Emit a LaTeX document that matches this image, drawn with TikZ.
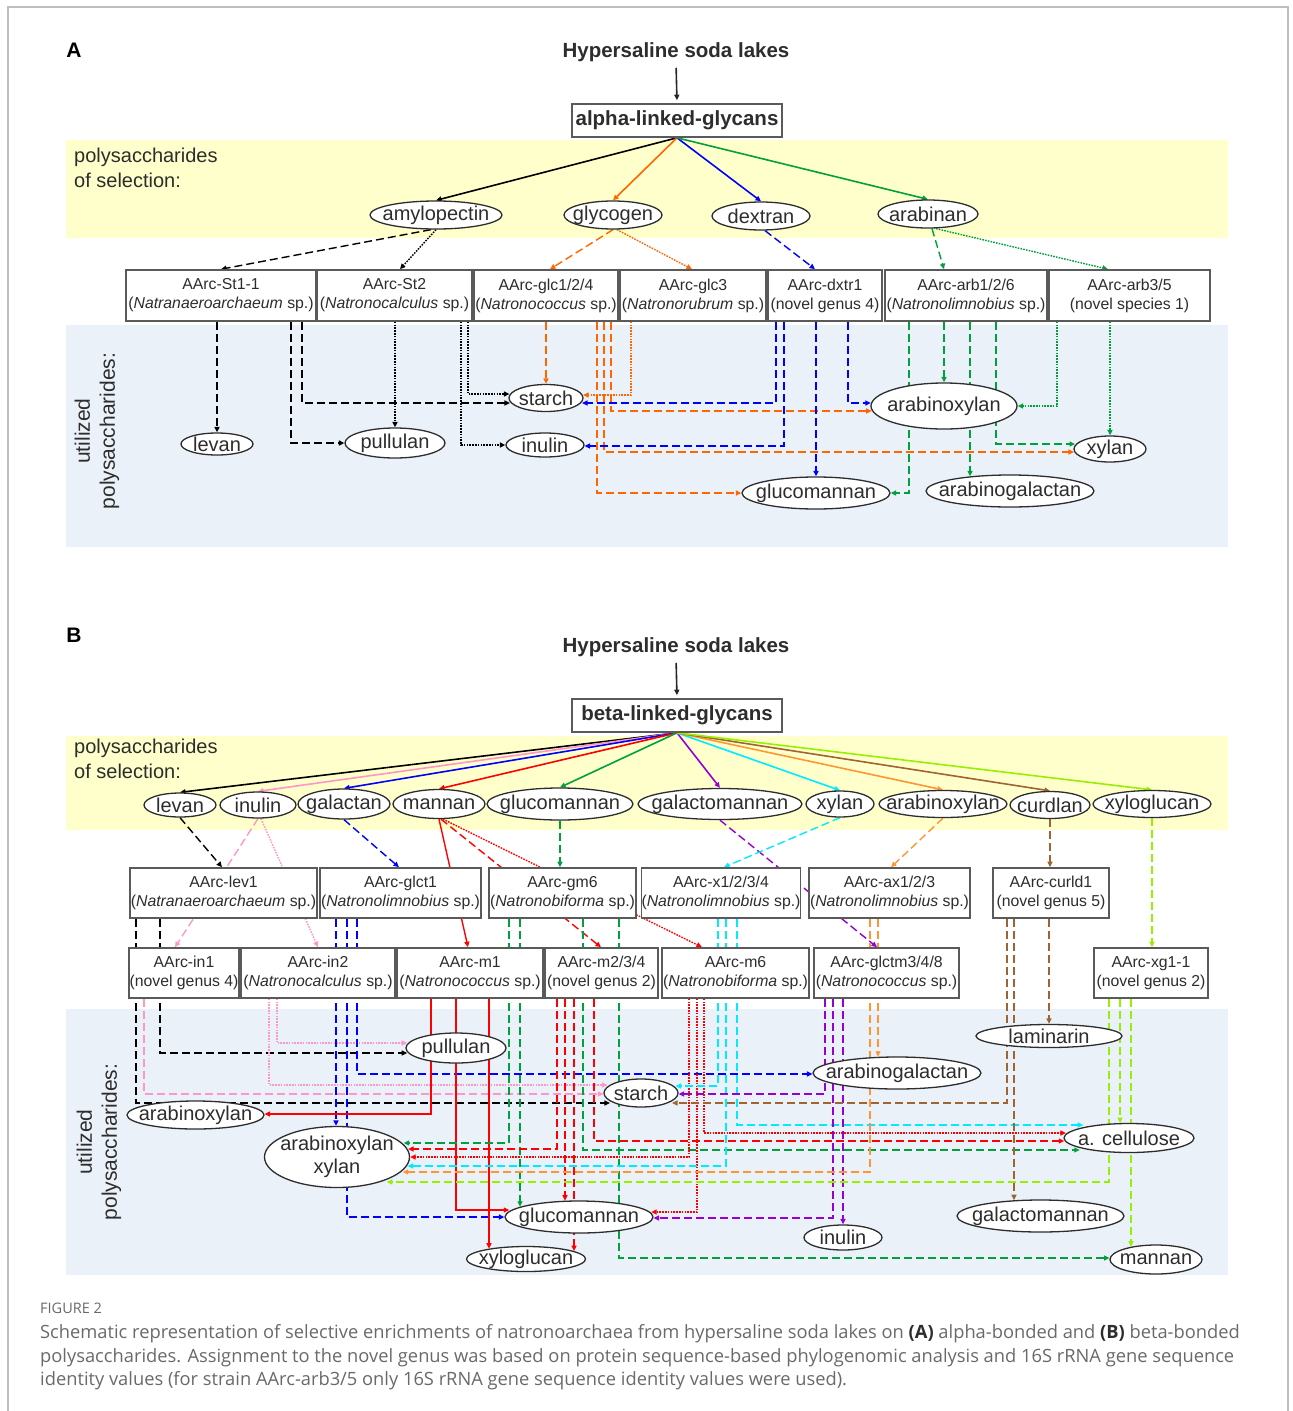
\documentclass[tikz,border=0pt]{standalone}
\usepackage{fontspec}
\setmainfont{Liberation Sans}
\newfontfamily\capfont{Open Sans}
\usetikzlibrary{arrows.meta,calc,shapes.geometric}
\pgfdeclarelayer{bg}
\pgfdeclarelayer{edges}
\pgfsetlayers{bg,edges,main}

\definecolor{cblack}{RGB}{0,0,0}
\definecolor{corange}{RGB}{255,102,0}
\definecolor{cblue}{RGB}{0,0,255}
\definecolor{cgreen}{RGB}{0,160,60}
\definecolor{cpink}{RGB}{255,150,200}
\definecolor{cred}{RGB}{255,0,0}
\definecolor{cpurple}{RGB}{150,0,210}
\definecolor{ccyan}{RGB}{0,235,255}
\definecolor{clorange}{RGB}{255,150,50}
\definecolor{cbrown}{RGB}{160,100,50}
\definecolor{clime}{RGB}{150,240,0}
\definecolor{bandyellow}{RGB}{255,255,204}
\definecolor{bandblue}{RGB}{234,241,249}
\definecolor{txt}{RGB}{45,45,45}
\definecolor{boxline}{RGB}{90,90,90}
\definecolor{capgray}{RGB}{105,105,105}
\definecolor{framegray}{RGB}{190,190,190}

\newcommand\myfs[2]{\fontsize{#1}{#2}\selectfont}

% vertical from box at x, then horizontal at level y to ellipse border (side -1 west, 1 east)
\newcommand\vh[6]{%
 \draw[#1] let \p1=(#5.center), \p2=(#5.east), \p3=(#5.north),
   \n1={(\x2-\x1)*sqrt(max(0,1-((#4*1pt+\y1)/(\y3-\y1+3pt))^2))} in
   (#3,0 |- #2.south) |- (\x1+#6*\n1*1pt, -#4*1pt);}
% vertical from box at x down to top border of ellipse
\newcommand\vv[4]{%
 \draw[#1] let \p1=(#4.center), \p2=(#4.east), \p3=(#4.north),
   \n1={(\y3-\y1)*sqrt(max(0,1-((#3*1pt-\x1)/(\x2-\x1))^2))} in
   (#3,0 |- #2.south) -- (#3*1pt, \y1+\n1*1pt);}

\tikzset{
 ln/.style={line width=1.4pt, -{Triangle[length=5.5pt,width=5pt]}},
 sol/.style={ln, line width=1.6pt},
 dsh/.style={ln, dash pattern=on 8pt off 4pt},
 dtt/.style={ln, line width=1.4pt, dash pattern=on 1.6pt off 1.2pt},
 abox/.style={draw=boxline, line width=1.6pt, fill=white, inner sep=0pt, align=center, text=txt, font=\myfs{15.8}{19}},
 ell/.style={draw=txt, line width=1.3pt, fill=white, ellipse, inner sep=0pt},
 etxt/.style={text=txt, font=\myfs{20}{23}, inner sep=0pt, align=center},
 plain/.style={text=txt, inner sep=0pt},
}
\newcommand\ellnode[6]{\node[ell, minimum width=#4pt, minimum height=#5pt, label={[etxt,name=#1-t]center:{#6}}] (#1) at (#2,#3) {};}
\newcommand\boxnode[6]{\node[abox, minimum width=#4pt, minimum height=#5pt] (#1) at (#2,#3) {#6};}

\begin{document}
\begin{tikzpicture}[x=1pt,y=-1pt]
\useasboundingbox (0,0) rectangle (1293,1411);
\draw[framegray, line width=1.5pt] (8,1411) -- (8,7) -- (1288,7) -- (1288,1411);

\begin{pgfonlayer}{bg}
 \fill[bandyellow] (66,140) rectangle (1228,238);
 \fill[bandblue] (66,325) rectangle (1228,547);
 \fill[bandyellow] (66,736) rectangle (1228,830);
 \fill[bandblue] (66,1009) rectangle (1228,1275);
\end{pgfonlayer}

% ================= PART A =================
\node[plain, text=black, font=\bfseries\myfs{21}{24}] (labA) at (74,50) {A};
\node[plain, font=\bfseries\myfs{20.5}{24}] (titleA) at (676,52) {Hypersaline soda lakes};
\node[abox, font=\bfseries\myfs{20.5}{24}, minimum width=210pt, minimum height=33pt] (alpha) at (677,120.5) {alpha-linked-glycans};
\node[plain, anchor=west, font=\myfs{20}{23}] (selA1) at (74,157) {polysaccharides};
\node[plain, anchor=west, font=\myfs{20}{23}] (selA2) at (74,180) {of selection:};
\node[plain, rotate=90, align=center, font=\myfs{21}{25}] (utilA) at (97,431) {utilized\\polysaccharides:};

\ellnode{amy}{436}{215}{132}{28}{amylopectin}
\ellnode{glyc}{613}{215}{98}{28}{glycogen}
\ellnode{dext}{761}{216}{98}{28}{dextran}
\ellnode{arab}{928}{214}{100}{28}{arabinan}

\boxnode{st11}{221}{295.5}{190}{51}{AArc-St1-1\\(\textit{Natranaeroarchaeum} sp.)}
\boxnode{st2}{394.5}{295.5}{155}{51}{AArc-St2\\(\textit{Natronocalculus} sp.)}
\boxnode{glc124}{546}{295.5}{144}{51}{AArc-glc1/2/4\\(\textit{Natronococcus} sp.)}
\boxnode{glc3}{693}{295.5}{146}{51}{AArc-glc3\\(\textit{Natronorubrum} sp.)}
\boxnode{dxtr1}{825}{295.5}{114}{51}{AArc-dxtr1\\(novel genus 4)}
\boxnode{arb126}{966}{295.5}{162}{51}{AArc-arb1/2/6\\(\textit{Natronolimnobius} sp.)}
\boxnode{arb35}{1129.5}{295.5}{161}{51}{AArc-arb3/5\\(novel species 1)}

\ellnode{levanA}{217}{444}{72}{22}{levan}
\ellnode{pullA}{395}{443}{100}{30}{pullulan}
\ellnode{starchA}{546}{398}{74}{27}{starch}
\ellnode{inulinA}{545}{445}{78}{24}{inulin}
\ellnode{axA}{944}{406}{146}{46}{arabinoxylan}
\ellnode{xylanA}{1110}{449}{72}{26}{xylan}
\ellnode{gmA}{816}{493}{148}{32}{glucomannan}
\ellnode{agA}{1010}{491}{168}{32}{arabinogalactan}

% ================= PART B =================
\node[plain, text=black, font=\bfseries\myfs{21}{24}] (labB) at (74,635) {B};
\node[plain, font=\bfseries\myfs{20.5}{24}] (titleB) at (676,647) {Hypersaline soda lakes};
\node[abox, font=\bfseries\myfs{20.5}{24}, minimum width=210pt, minimum height=33pt] (beta) at (677,715.5) {beta-linked-glycans};
\node[plain, anchor=west, font=\myfs{20}{23}] (selB1) at (74,748) {polysaccharides};
\node[plain, anchor=west, font=\myfs{20}{23}] (selB2) at (74,771) {of selection:};
\node[plain, rotate=90, align=center, font=\myfs{21}{25}] (utilB) at (99,1142) {utilized\\polysaccharides:};

\ellnode{levB}{180}{805}{72}{24}{levan}
\ellnode{inuB}{258}{805}{76}{26}{inulin}
\ellnode{galB}{344}{804}{92}{30}{galactan}
\ellnode{manB}{439}{804}{92}{29}{mannan}
\ellnode{gmB}{560}{804}{146}{32}{glucomannan}
\ellnode{gmmB}{720}{804}{164}{31}{galactomannan}
\ellnode{xylB}{840}{804}{68}{26}{xylan}
\ellnode{axB}{943}{804}{128}{27}{arabinoxylan}
\ellnode{curB}{1050}{805}{80}{27}{curdlan}
\ellnode{xgB}{1152}{804}{118}{27}{xyloglucan}

\boxnode{lev1}{223.5}{893}{187}{50}{AArc-lev1\\(\textit{Natranaeroarchaeum} sp.)}
\boxnode{glct1}{400.5}{893}{161}{50}{AArc-glct1\\(\textit{Natronolimnobius} sp.)}
\boxnode{gm6}{562.5}{893}{147}{50}{AArc-gm6\\(\textit{Natronobiforma} sp.)}
\boxnode{x1234}{721}{893}{158}{50}{AArc-x1/2/3/4\\(\textit{Natronolimnobius} sp.)}
\boxnode{ax123}{889.5}{893}{161}{50}{AArc-ax1/2/3\\(\textit{Natronolimnobius} sp.)}
\boxnode{curld1}{1051}{893}{116}{50}{AArc-curld1\\(novel genus 5)}

\boxnode{in1}{184}{973}{110}{50}{AArc-in1\\(novel genus 4)}
\boxnode{in2}{318}{973}{154}{50}{AArc-in2\\(\textit{Natronocalculus} sp.)}
\boxnode{m1}{470}{973}{146}{50}{AArc-m1\\(\textit{Natronococcus} sp.)}
\boxnode{m234}{601.5}{973}{113}{50}{AArc-m2/3/4\\(novel genus 2)}
\boxnode{m6}{735.5}{973}{147}{50}{AArc-m6\\(\textit{Natronobiforma} sp.)}
\boxnode{glctm}{886.5}{973}{145}{50}{AArc-glctm3/4/8\\(\textit{Natronococcus} sp.)}
\boxnode{xg11}{1151}{973}{114}{50}{AArc-xg1-1\\(novel genus 2)}

\ellnode{pullB}{456}{1048}{100}{30}{pullulan}
\ellnode{agB}{897}{1073}{168}{32}{arabinogalactan}
\ellnode{starchB}{641}{1093}{74}{28}{starch}
\ellnode{axLB}{195.5}{1115}{137}{28}{arabinoxylan}
\ellnode{lamB}{1049}{1036}{146}{23}{laminarin}
\ellnode{bigB}{337}{1157}{145}{61}{arabinoxylan\\xylan}
\ellnode{acelB}{1129}{1138}{130}{29}{a. cellulose}
\ellnode{gmLB}{579}{1217}{148}{32}{glucomannan}
\ellnode{inuLB}{843}{1237.5}{78}{25}{inulin}
\ellnode{gmmLB}{1040.5}{1216}{167}{32}{galactomannan}
\ellnode{xgLB}{526}{1259}{119}{25}{xyloglucan}
\ellnode{manLB}{1156}{1259.5}{92}{29}{mannan}

% ================= CAPTION =================
\node[anchor=west, inner sep=0pt, text=capgray, font=\capfont\myfs{14.5}{17}] (figlab) at (40,1308) {FIGURE 2};
\node[anchor=west, inner sep=0pt, text=capgray, font=\capfont\myfs{18.3}{22}] (cap1) at (40,1334) {Schematic representation of selective enrichments of natronoarchaea from hypersaline soda lakes on \textcolor{txt}{\textbf{(A)}} alpha-bonded and \textcolor{txt}{\textbf{(B)}} beta-bonded};
\node[anchor=west, inner sep=0pt, text=capgray, font=\capfont\myfs{18.3}{22}] (cap2) at (40,1358) {polysaccharides. Assignment to the novel genus was based on protein sequence-based phylogenomic analysis and 16S rRNA gene sequence};
\node[anchor=west, inner sep=0pt, text=capgray, font=\capfont\myfs{18.3}{22}] (cap3) at (40,1381) {identity values (for strain AArc-arb3/5 only 16S rRNA gene sequence identity values were used).};

% ================= CONNECTORS =================
\begin{pgfonlayer}{edges}
% --- A top
\draw[sol, black!85, shorten <=6pt, shorten >=3pt] (titleA.south) -- (alpha.north);
\draw[sol, cblack] (alpha.south) -- (amy.north);
\draw[sol, corange] (alpha.south) -- (glyc.north);
\draw[sol, cblue] (alpha.south) -- (dext.north);
\draw[sol, cgreen] (alpha.south) -- (arab.north);
\draw[dsh, cblack] ([xshift=-5pt]amy.south) -- (st11.north -| 221,0);
\draw[dtt, cblack] (amy.south) -- (st2.north -| 400,0);
\draw[dsh, corange] (glyc.south) -- (glc124.north -| 550,0);
\draw[dtt, corange] ([xshift=4pt]glyc.south) -- (glc3.north -| 692,0);
\draw[dsh, cblue] ([xshift=4pt]dext.south) -- (dxtr1.north -| 815,0);
\draw[dsh, cgreen] ([xshift=4pt]arab.south) -- (arb126.north -| 944,0);
\draw[dtt, cgreen] ([xshift=8pt]arab.south) -- (arb35.north -| 1108,0);
% --- A bottom
\vv{dsh,cblack}{st11}{217}{levanA}
\vh{dsh,cblack}{st11}{291}{443}{pullA}{-1}
\vh{dsh,cblack}{st11}{302}{403}{starchA}{-1}
\vv{dtt,cblack}{st2}{395}{pullA}
\vh{dtt,cblack}{st2}{461}{445}{inulinA}{-1}
\vh{dtt,cblack}{st2}{468}{394}{starchA}{-1}
\vv{dsh,corange}{glc124}{546}{starchA}
\vh{dsh,corange}{glc124}{597}{493}{gmA}{-1}
\vh{dsh,corange}{glc124}{604}{452}{xylanA}{-1}
\vh{dsh,corange}{glc124}{611}{411}{axA}{-1}
\vh{dtt,corange}{glc3}{631}{395}{starchA}{1}
\vh{dsh,cblue}{dxtr1}{776}{403}{starchA}{1}
\vh{dsh,cblue}{dxtr1}{784}{446}{inulinA}{1}
\vv{dsh,cblue}{dxtr1}{816}{gmA}
\vh{dsh,cblue}{dxtr1}{848}{403}{axA}{-1}
\vh{dsh,cgreen}{arb126}{909}{493}{gmA}{1}
\vv{dsh,cgreen}{arb126}{944}{axA}
\vv{dsh,cgreen}{arb126}{970}{agA}
\vh{dsh,cgreen}{arb126}{996}{444}{xylanA}{-1}
\vh{dtt,cgreen}{arb35}{1057}{406}{axA}{1}
\vv{dtt,cgreen}{arb35}{1110}{xylanA}
% --- B top
\draw[sol, black!85, shorten <=6pt, shorten >=3pt] (titleB.south) -- (beta.north);
\draw[sol, cblack] (beta.south) -- (levB.north);
\draw[sol, cpink] (beta.south) -- (inuB.north);
\draw[sol, cblue] (beta.south) -- (galB.north);
\draw[sol, cred] (beta.south) -- (manB.north);
\draw[sol, cgreen] (beta.south) -- (gmB.north);
\draw[sol, cpurple] (beta.south) -- (gmmB.north);
\draw[sol, ccyan] (beta.south) -- (xylB.north);
\draw[sol, clorange] (beta.south) -- (axB.north);
\draw[sol, cbrown] (beta.south) -- (curB.north);
\draw[sol, clime] (beta.south) -- (xgB.north);
\draw[dsh, cblack] (levB.south) -- (lev1.north -| 222,0);
\draw[dsh, cpink] (inuB.south) -- (in1.north -| 175,0);
\draw[dtt, cpink] ([xshift=3pt]inuB.south) -- (in2.north -| 318,0);
\draw[dsh, cblue] (galB.south) -- (glct1.north -| 399,0);
\draw[sol, cred, line width=1.4pt] (manB.south) -- (m1.north -| 468,0);
\draw[dsh, cred] ([xshift=2pt]manB.south) -- (m234.north -| 601,0);
\draw[dtt, cred] ([xshift=4pt]manB.south) -- (m6.north -| 702,0);
\draw[dsh, cgreen] (gmB.south) -- (gmB.south |- gm6.north);
\draw[dsh, cpurple] (gmmB.south) -- (glctm.north -| 877,0);
\draw[dsh, ccyan] (xylB.south) -- (x1234.north -| 724,0);
\draw[dsh, clorange] (axB.south) -- (ax123.north -| 891,0);
\draw[dsh, cbrown] (curB.south) -- (curB.south |- curld1.north);
\draw[dsh, clime] (xgB.south) -- (xgB.south |- xg11.north);
% --- B bottom
\vh{dsh,cblack}{lev1}{136}{1103}{starchB}{-1}
\vh{dsh,cblack}{lev1}{160}{1053}{pullB}{-1}
\vh{dsh,cpink}{in1}{144}{1094}{starchB}{-1}
\vh{dtt,cpink}{in2}{269}{1085}{starchB}{-1}
\vh{dtt,cpink}{in2}{277}{1043}{pullB}{-1}
\vv{dsh,cblue}{glct1}{336}{bigB}
\vh{dsh,cblue}{glct1}{347}{1217}{gmLB}{-1}
\vh{dsh,cblue}{glct1}{357}{1074}{agB}{-1}
\vh{ln,cred}{m1}{431}{1114}{axLB}{1}
\vh{ln,cred}{m1}{456}{1210}{gmLB}{-1}
\vv{ln,cred}{m1}{489}{xgLB}
\vh{dsh,cgreen}{gm6}{509}{1143}{bigB}{1}
\vv{dsh,cgreen}{gm6}{520}{gmLB}
\vh{dsh,cgreen}{gm6}{583}{1150}{acelB}{-1}
\vh{dsh,cgreen}{gm6}{619}{1258}{manLB}{-1}
\vh{dsh,cred}{m234}{557}{1149}{bigB}{1}
\vv{dsh,cred}{m234}{565}{gmLB}
\vv{dsh,cred}{m234}{574}{xgLB}
\vh{dsh,cred}{m234}{594}{1141}{acelB}{-1}
\vh{dtt,cred}{m6}{689}{1157}{bigB}{1}
\vh{dtt,cred}{m6}{697}{1212}{gmLB}{1}
\vh{dtt,cred}{m6}{704}{1133}{acelB}{-1}
\vh{dsh,ccyan}{x1234}{718}{1086}{starchB}{1}
\vh{dsh,ccyan}{x1234}{726}{1166}{bigB}{1}
\vh{dsh,ccyan}{x1234}{737}{1125}{acelB}{-1}
\vh{dsh,cpurple}{glctm}{825}{1094}{starchB}{1}
\vh{dsh,cpurple}{glctm}{833}{1218}{gmLB}{1}
\vv{dsh,cpurple}{glctm}{843}{inuLB}
\vh{dsh,clorange}{ax123}{870}{1172}{bigB}{1}
\vv{dsh,clorange}{ax123}{878}{agB}
\vh{dsh,cbrown}{curld1}{1007}{1103}{starchB}{1}
\vv{dsh,cbrown}{curld1}{1014}{gmmLB}
\vv{dsh,cbrown}{curld1}{1049}{lamB}
\vh{dsh,clime}{xg11}{1109}{1182}{bigB}{1}
\vv{dsh,clime}{xg11}{1120}{acelB}
\vv{dsh,clime}{xg11}{1131}{manLB}
\end{pgfonlayer}
\end{tikzpicture}
\end{document}
